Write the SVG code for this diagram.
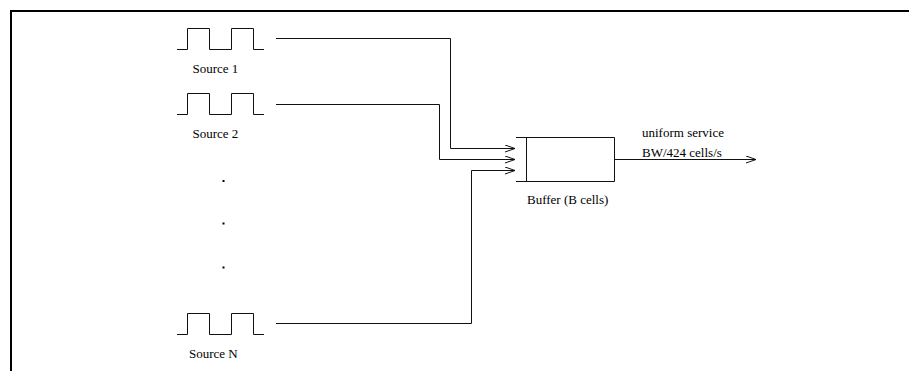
<svg xmlns="http://www.w3.org/2000/svg" width="910" height="371" viewBox="0 0 910 371">
  <style>
    .lbl { font-family: "Liberation Serif", "Times New Roman", serif; font-size: 13px; fill: #000; }
    .ln { fill: none; stroke: #111; stroke-width: 1; }
    .frame { fill: none; stroke: #000; stroke-width: 2; }
  </style>
  <defs>
    <marker id="open" viewBox="0 0 10 8" refX="10" refY="4" markerWidth="10" markerHeight="8" markerUnits="userSpaceOnUse" orient="auto">
      <path d="M0,0.5 L10,4 L0,7.5" fill="none" stroke="#111" stroke-width="1"/>
    </marker>
    <g id="pulses">
      <path class="ln" d="M177,0 H187.5 V-21 H209.5 V0 H231.5 V-21 H253.5 V0 H264"/>
    </g>
  </defs>
  <rect width="910" height="371" fill="#fff"/>
  <path class="frame" d="M11,371 V11 H909"/>

  <g id="source1">
    <use href="#pulses" transform="translate(0,49.5)"/>
    <text class="lbl" x="192.5" y="72.5">Source 1</text>
  </g>
  <g id="source2">
    <use href="#pulses" transform="translate(0,114.5)"/>
    <text class="lbl" x="192.5" y="137.5">Source 2</text>
  </g>
  <g id="ellipsis">
    <rect x="222.5" y="180" width="2" height="2" fill="#000"/>
    <rect x="222.5" y="222.5" width="2" height="2" fill="#000"/>
    <rect x="222.5" y="266.5" width="2" height="2" fill="#000"/>
  </g>
  <g id="sourceN">
    <use href="#pulses" transform="translate(0,334.5)"/>
    <text class="lbl" x="189" y="357.5">Source N</text>
  </g>

  <g id="buffer">
    <path class="ln" d="M516,137.5 H614.5 V181.5 H516 M526.5,137.5 V181.5"/>
    <text class="lbl" x="527" y="204">Buffer (B cells)</text>
  </g>

  <g id="service-label">
    <text class="lbl" x="642" y="137">uniform service</text>
    <text class="lbl" x="642" y="156.5">BW/424 cells/s</text>
  </g>

  <g id="connectors">
    <path class="ln" d="M276,38.5 H450.5 V148.5 H515" marker-end="url(#open)"/>
    <path class="ln" d="M276,104.5 H439.5 V159.5 H515" marker-end="url(#open)"/>
    <path class="ln" d="M276,323.5 H471.5 V170.5 H515" marker-end="url(#open)"/>
    <path class="ln" d="M614.5,159.5 H756" marker-end="url(#open)"/>
  </g>
</svg>
